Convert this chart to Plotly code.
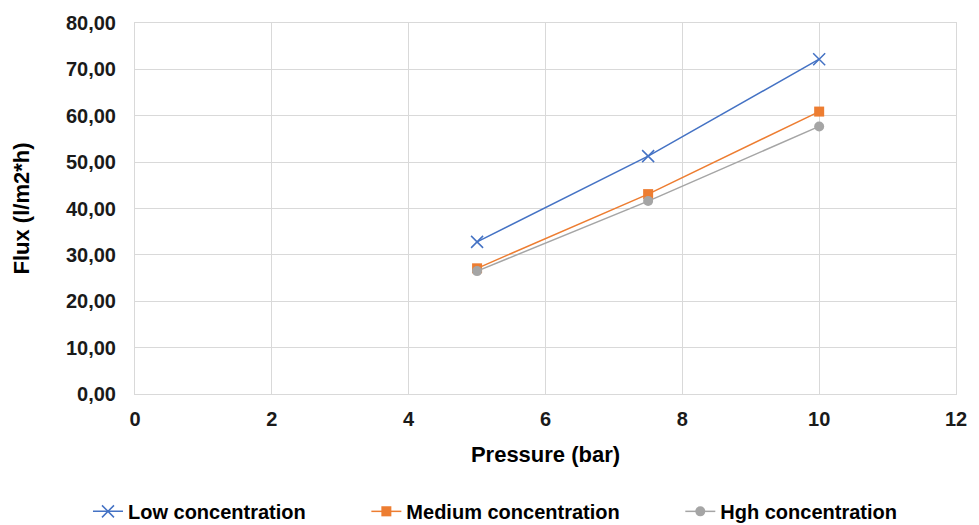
import plotly.graph_objects as go

pressure = [5, 7.5, 10]
low = [32.8, 51.3, 72.2]
medium = [27.1, 43.1, 60.9]
high = [26.5, 41.6, 57.7]
names = ["Low concentration", "Medium concentration", "Hgh concentration"]

pad = "\u00a0" * 10
font_family = "Liberation Sans, Arial, sans-serif"

fig = go.Figure()
fig.add_trace(go.Scatter(x=pressure, y=low, name="<b>" + names[0] + "</b>" + pad, mode="lines+markers",
                         line=dict(color="#4472C4", width=1.5),
                         marker=dict(symbol="x-thin-open", size=12, color="#4472C4",
                                     line=dict(color="#4472C4", width=1.5))))
fig.add_trace(go.Scatter(x=pressure, y=medium, name="<b>" + names[1] + "</b>" + pad, mode="lines+markers",
                         line=dict(color="#ED7D31", width=1.5),
                         marker=dict(symbol="square", size=10, color="#ED7D31")))
fig.add_trace(go.Scatter(x=pressure, y=high, name="<b>" + names[2] + "</b>", mode="lines+markers",
                         line=dict(color="#A5A5A5", width=1.5),
                         marker=dict(symbol="circle", size=10, color="#A5A5A5")))

fig.update_layout(
    width=979, height=525,
    margin=dict(l=135, r=14, t=21, b=131),
    paper_bgcolor="white", plot_bgcolor="white",
    separators=",.",
    font=dict(family=font_family, size=20, color="#1a1a1a"),
    showlegend=True,
    legend=dict(orientation="h", xref="container", yref="container",
                x=0.5056, xanchor="center", y=0.026, yanchor="middle",
                font=dict(size=20, color="#000000", family=font_family),
                tracegroupgap=0),
    xaxis=dict(range=[0, 12], dtick=2, tick0=0, showgrid=True, gridcolor="#D9D9D9",
               gridwidth=1, zeroline=False, showline=True, linecolor="#D9D9D9", mirror=True,
               ticks="outside", ticklen=7, tickcolor="rgba(0,0,0,0)",
               tickprefix="<b>", ticksuffix="</b>",
               tickfont=dict(size=20, color="#1a1a1a"),
               title=dict(text="<b>Pressure (bar)</b>", font=dict(size=22, color="#000000"), standoff=17)),
    yaxis=dict(range=[0, 80], dtick=10, showgrid=True, gridcolor="#D9D9D9", gridwidth=1,
               zeroline=False, showline=True, linecolor="#D9D9D9", mirror=True,
               ticks="outside", ticklen=14, tickcolor="rgba(0,0,0,0)", tickformat=".2f",
               tickprefix="<b>", ticksuffix="</b>",
               tickfont=dict(size=20, color="#1a1a1a"),
               title=dict(text="<b>Flux (l/m2*h)</b>", font=dict(size=22, color="#000000"), standoff=30)),
)

fig.write_html("out.html")
